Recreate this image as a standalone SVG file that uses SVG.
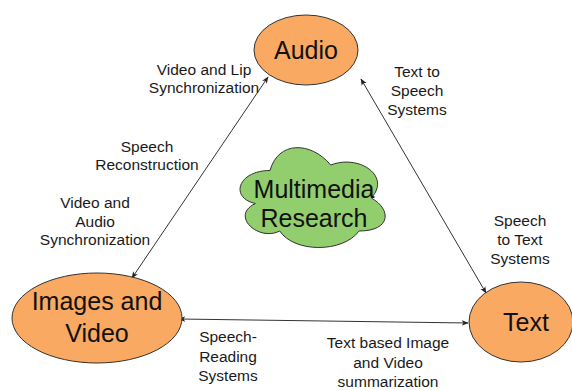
<svg xmlns="http://www.w3.org/2000/svg" width="572" height="390" viewBox="0 0 572 390">
<defs>
<marker id="ah" viewBox="0 0 10 10" refX="9" refY="5" markerWidth="7" markerHeight="7" orient="auto-start-reverse" markerUnits="userSpaceOnUse">
<path d="M0,1 L10,5 L0,9 L2.5,5 Z" fill="#222"/>
</marker>
</defs>
<style>
.node{fill:#F9A962;stroke:#333;stroke-width:1}
.cloud{fill:#92CD6E;stroke:#333;stroke-width:1}
.big{font-family:"Liberation Sans",Arial,sans-serif;font-size:25px;fill:#111;text-anchor:middle}
.lbl{font-family:"Liberation Sans",Arial,sans-serif;font-size:15.5px;fill:#1a1a1a;text-anchor:middle}
.edge{stroke:#333;stroke-width:1;fill:none;marker-start:url(#ah);marker-end:url(#ah)}
</style>
<rect width="572" height="390" fill="#fff"/>
<g id="connectors">
<line class="edge" x1="268" y1="77" x2="132" y2="278"/>
<line class="edge" x1="361" y1="79" x2="486" y2="293"/>
<line class="edge" x1="179" y1="319" x2="468" y2="323"/>
</g>
<g id="audio">
<ellipse class="node" cx="306" cy="50" rx="52" ry="35"/>
<text class="big" x="306" y="59">Audio</text>
</g>
<g id="images-video">
<ellipse class="node" cx="97" cy="318" rx="85" ry="45"/>
<text class="big" x="97" y="310">Images and</text>
<text class="big" x="97" y="342">Video</text>
</g>
<g id="text-node">
<ellipse class="node" cx="521" cy="322" rx="52" ry="40"/>
<text class="big" x="526" y="331">Text</text>
</g>
<g id="multimedia-research">
<path class="cloud" d="M270,170.5 C237.6,170.5 229.5,198 255.4,203.5 C229.5,215.6 258.7,242 279.7,231 C294.3,253 342.9,253 359.1,231 C391.5,231 391.5,209 371.25,198 C391.5,176 359.1,154 330.75,165 C310.5,141 278.1,141 270,170.5 Z"/>
<text class="big" x="314" y="198">Multimedia</text>
<text class="big" x="314" y="227">Research</text>
</g>
<g id="labels">
<text class="lbl" x="204" y="75">Video and Lip</text>
<text class="lbl" x="204" y="93">Synchronization</text>
<text class="lbl" x="147" y="152">Speech</text>
<text class="lbl" x="147" y="170">Reconstruction</text>
<text class="lbl" x="95" y="208">Video and</text>
<text class="lbl" x="95" y="227">Audio</text>
<text class="lbl" x="95" y="245">Synchronization</text>
<text class="lbl" x="417" y="77">Text to</text>
<text class="lbl" x="417" y="96">Speech</text>
<text class="lbl" x="417" y="115">Systems</text>
<text class="lbl" x="520" y="226">Speech</text>
<text class="lbl" x="520" y="245">to Text</text>
<text class="lbl" x="520" y="264">Systems</text>
<text class="lbl" x="228" y="342">Speech-</text>
<text class="lbl" x="228" y="362">Reading</text>
<text class="lbl" x="228" y="381">Systems</text>
<text class="lbl" x="388" y="348">Text based Image</text>
<text class="lbl" x="388" y="368">and Video</text>
<text class="lbl" x="388" y="387">summarization</text>
</g>
</svg>
